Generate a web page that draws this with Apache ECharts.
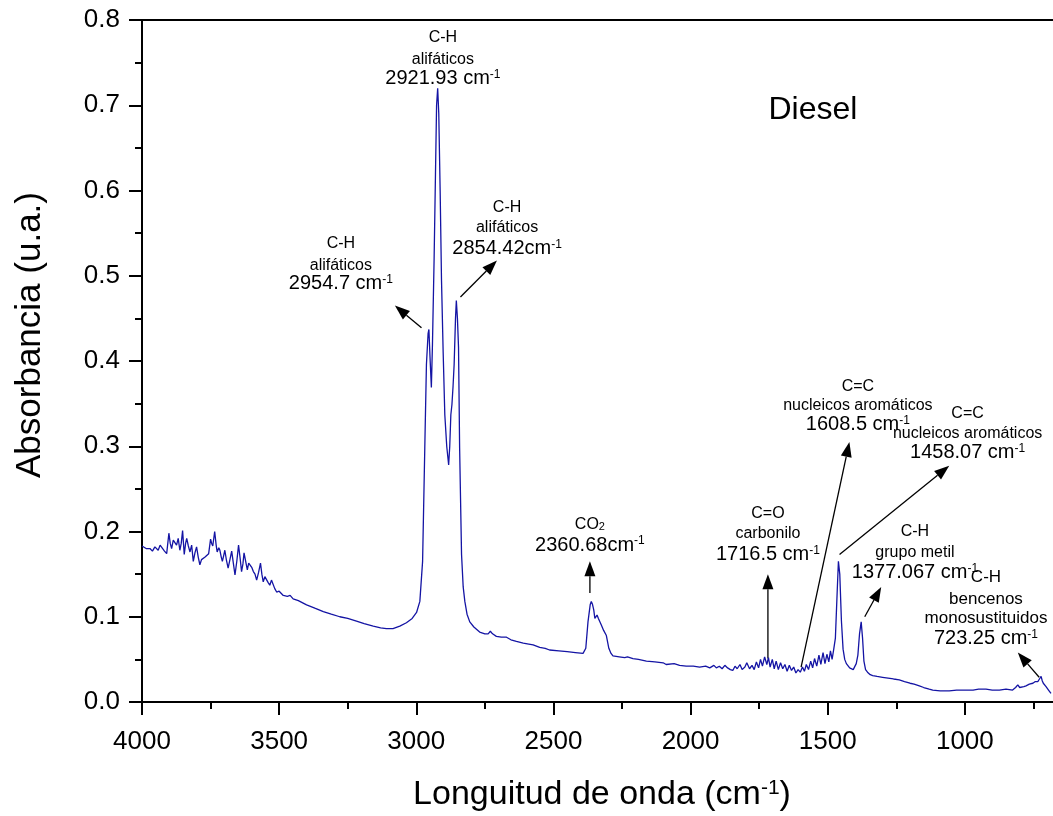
<!DOCTYPE html>
<html>
<head>
<meta charset="utf-8">
<title>Diesel FTIR</title>
<script src="https://cdn.jsdelivr.net/npm/echarts@6/dist/echarts.min.js"></script>
<style>
  html, body { margin: 0; padding: 0; background: #fff; }
  #chart { width: 1053px; height: 816px; }
</style>
</head>
<body>
<div id="chart"></div>
<script>
// spectrum (cm-1, absorbance)
var wavenumber = [
  4000, 3995, 3985, 3971, 3962, 3953, 3941, 3934, 3928, 3918, 3910, 3902, 3897, 3892, 3886, 3880,
  3874, 3868, 3862, 3857, 3852, 3846, 3841, 3837, 3831, 3825, 3819, 3813, 3807, 3801, 3795, 3789,
  3783, 3777, 3770, 3764, 3757, 3750, 3746, 3742, 3735, 3730, 3726, 3720, 3716, 3711, 3707, 3702,
  3698, 3692, 3686, 3680, 3673, 3667, 3661, 3654, 3648, 3642, 3637, 3632, 3628, 3622, 3616, 3611,
  3607, 3600, 3594, 3588, 3582, 3575, 3568, 3563, 3558, 3552, 3546, 3540, 3534, 3528, 3522, 3516,
  3509, 3500, 3485, 3470, 3460, 3449, 3430, 3400, 3370, 3339, 3310, 3279, 3250, 3218, 3190, 3157,
  3130, 3109, 3085, 3060, 3036, 3015, 2999, 2987, 2977, 2969, 2963, 2957, 2954, 2950, 2945, 2941,
  2935, 2930, 2926, 2922, 2918, 2913, 2908, 2902, 2896, 2889, 2882, 2878, 2874, 2870, 2866, 2862,
  2857, 2854, 2850, 2846, 2842, 2835, 2829, 2823, 2815, 2805, 2790, 2769, 2750, 2738, 2730, 2722,
  2708, 2690, 2671, 2655, 2635, 2610, 2590, 2574, 2550, 2530, 2514, 2480, 2450, 2420, 2392, 2382,
  2374, 2366, 2362, 2358, 2353, 2349, 2345, 2341, 2336, 2332, 2325, 2317, 2307, 2298, 2290, 2283,
  2260, 2240, 2230, 2210, 2190, 2161, 2130, 2100, 2089, 2060, 2040, 2016, 1990, 1967, 1945, 1930,
  1915, 1906, 1895, 1885, 1875, 1865, 1855, 1846, 1838, 1830, 1820, 1812, 1802, 1795, 1785, 1776,
  1768, 1760, 1752, 1745, 1738, 1730, 1722, 1716, 1710, 1702, 1695, 1688, 1680, 1672, 1664, 1656,
  1648, 1640, 1632, 1624, 1616, 1608, 1600, 1592, 1585, 1578, 1570, 1562, 1555, 1548, 1540, 1532,
  1525, 1517, 1510, 1503, 1496, 1490, 1484, 1478, 1472, 1466, 1461, 1456, 1450, 1444, 1438, 1432,
  1427, 1420, 1413, 1407, 1402, 1396, 1390, 1384, 1378, 1373, 1368, 1362, 1355, 1345, 1336, 1320,
  1300, 1280, 1260, 1239, 1220, 1200, 1185, 1166, 1150, 1130, 1117, 1090, 1057, 1030, 996, 970,
  950, 923, 900, 874, 850, 826, 815, 807, 800, 795, 785, 777, 765, 752, 743, 734,
  728, 722, 718, 714, 709, 704, 695, 686
];
var absorbance = [
  0.183, 0.182, 0.180, 0.180, 0.177, 0.182, 0.178, 0.184, 0.185, 0.177, 0.174, 0.198, 0.186, 0.180, 0.190, 0.188,
  0.184, 0.192, 0.178, 0.186, 0.201, 0.173, 0.186, 0.192, 0.183, 0.176, 0.184, 0.165, 0.175, 0.182, 0.170, 0.161,
  0.167, 0.165, 0.170, 0.168, 0.174, 0.191, 0.186, 0.183, 0.200, 0.185, 0.176, 0.181, 0.178, 0.170, 0.165, 0.172,
  0.178, 0.166, 0.157, 0.166, 0.177, 0.163, 0.149, 0.166, 0.184, 0.168, 0.153, 0.162, 0.175, 0.165, 0.155, 0.163,
  0.165, 0.158, 0.153, 0.150, 0.143, 0.152, 0.163, 0.150, 0.141, 0.147, 0.145, 0.140, 0.137, 0.143, 0.141, 0.133,
  0.129, 0.130, 0.125, 0.124, 0.125, 0.121, 0.119, 0.114, 0.110, 0.106, 0.103, 0.100, 0.098, 0.095, 0.092, 0.089,
  0.087, 0.086, 0.086, 0.089, 0.093, 0.098, 0.105, 0.118, 0.165, 0.298, 0.396, 0.432, 0.437, 0.405, 0.369, 0.420,
  0.520, 0.620, 0.700, 0.720, 0.690, 0.600, 0.494, 0.410, 0.337, 0.300, 0.278, 0.300, 0.337, 0.349, 0.370, 0.396,
  0.450, 0.471, 0.450, 0.416, 0.298, 0.173, 0.135, 0.118, 0.103, 0.094, 0.088, 0.082, 0.080, 0.080, 0.083, 0.080,
  0.077, 0.076, 0.076, 0.073, 0.071, 0.069, 0.068, 0.067, 0.064, 0.063, 0.061, 0.060, 0.059, 0.058, 0.057, 0.063,
  0.094, 0.114, 0.118, 0.115, 0.108, 0.098, 0.100, 0.102, 0.098, 0.096, 0.090, 0.084, 0.078, 0.063, 0.057, 0.054,
  0.053, 0.052, 0.053, 0.051, 0.050, 0.048, 0.047, 0.046, 0.044, 0.045, 0.043, 0.042, 0.042, 0.041, 0.042, 0.040,
  0.043, 0.040, 0.042, 0.039, 0.043, 0.040, 0.038, 0.037, 0.042, 0.039, 0.044, 0.038, 0.041, 0.046, 0.039, 0.043,
  0.038, 0.047, 0.040, 0.050, 0.042, 0.053, 0.044, 0.052, 0.041, 0.050, 0.039, 0.048, 0.038, 0.046, 0.039, 0.044,
  0.036, 0.043, 0.037, 0.041, 0.034, 0.038, 0.035, 0.041, 0.036, 0.044, 0.038, 0.048, 0.040, 0.051, 0.042, 0.055,
  0.044, 0.058, 0.045, 0.056, 0.047, 0.060, 0.050, 0.062, 0.075, 0.125, 0.165, 0.150, 0.095, 0.062, 0.050, 0.045,
  0.043, 0.040, 0.041, 0.038, 0.037, 0.045, 0.055, 0.080, 0.094, 0.075, 0.048, 0.038, 0.035, 0.032, 0.031, 0.030,
  0.029, 0.028, 0.027, 0.026, 0.024, 0.022, 0.021, 0.019, 0.017, 0.015, 0.014, 0.013, 0.013, 0.014, 0.014, 0.014,
  0.015, 0.015, 0.014, 0.014, 0.015, 0.014, 0.017, 0.020, 0.017, 0.016, 0.018, 0.019, 0.021, 0.022, 0.024, 0.024,
  0.027, 0.030, 0.025, 0.022, 0.020, 0.018, 0.014, 0.010
];

var xTickLabels = [4000, 3500, 3000, 2500, 2000, 1500, 1000];

// annotation text, one entry per block: [small lines..., number line]
var noteLines = [
  ['C-H', 'alifáticos', '2921.93 cm'],
  ['C-H', 'alifáticos', '2954.7 cm'],
  ['C-H', 'alifáticos', '2854.42cm'],
  ['CO2', '2360.68cm'],
  ['C=O', 'carbonilo', '1716.5 cm'],
  ['C=C', 'nucleicos aromáticos', '1608.5 cm'],
  ['C=C', 'nucleicos aromáticos', '1458.07 cm'],
  ['C-H', 'grupo metil', '1377.067 cm'],
  ['C-H', 'bencenos', 'monosustituidos', '723.25 cm']
];

var FONT = "'Liberation Sans', Arial, sans-serif";

var chart = echarts.init(document.getElementById('chart'));

function superRich(size) {
  return {
    n: { fontSize: size, fontFamily: FONT, color: '#000' },
    s: { fontSize: Math.round(size * 0.62), fontFamily: FONT, color: '#000', verticalAlign: 'top' },
    b: { fontSize: Math.round(size * 0.68), fontFamily: FONT, color: '#000', verticalAlign: 'bottom' }
  };
}

chart.setOption({
  animation: false,
  backgroundColor: '#fff',
  grid: {
    left: 142,
    right: -49,
    top: 20,
    bottom: 114,
    outerBoundsMode: 'none',
    show: true,
    borderColor: '#000',
    borderWidth: 2
  },
  xAxis: {
    type: 'value',
    inverse: true,
    min: 500,
    max: 4000,
    interval: 500,
    name: '{n|Longuitud de onda (cm}{s|-1}{n|)}',
    nameLocation: 'middle',
    nameGap: 76,
    nameTextStyle: { rich: superRich(34), padding: [0, 40, 0, 0] },
    axisLine: { lineStyle: { color: '#000', width: 2 } },
    axisTick: { inside: false, length: 13, lineStyle: { color: '#000', width: 2 } },
    minorTick: { show: true, splitNumber: 2, length: 7, lineStyle: { color: '#000', width: 2 } },
    axisLabel: {
      color: '#000',
      fontSize: 26,
      fontFamily: FONT,
      margin: 27,
      formatter: function (v) {
        return xTickLabels.indexOf(v) >= 0 ? String(v) : '';
      }
    },
    splitLine: { show: false }
  },
  yAxis: {
    type: 'value',
    min: 0,
    max: 0.8,
    interval: 0.1,
    name: 'Absorbancia (u.a.)',
    nameLocation: 'middle',
    nameGap: 94,
    nameTextStyle: { color: '#000', fontSize: 35, fontFamily: FONT, padding: [0, 0, 0, 52] },
    axisLine: { show: true, lineStyle: { color: '#000', width: 2 } },
    axisTick: { show: true, inside: false, length: 13, lineStyle: { color: '#000', width: 2 } },
    minorTick: { show: true, splitNumber: 2, length: 7, lineStyle: { color: '#000', width: 2 } },
    axisLabel: {
      color: '#000',
      fontSize: 26,
      fontFamily: FONT,
      margin: 22,
      formatter: function (v) { return v.toFixed(1); }
    },
    splitLine: { show: false }
  },
  series: [{
    name: 'Diesel',
    type: 'line',
    showSymbol: false,
    lineStyle: { color: '#1414a4', width: 1.3 },
    data: wavenumber.map(function (w, i) { return [w, absorbance[i]]; })
  }]
});

// where each note block sits, in data units: [cm-1, absorbance of each line]
var notePlace = [
  [2903, [0.779, 0.754, 0.731]],
  [3275, [0.538, 0.512, 0.491]],
  [2669, [0.580, 0.556, 0.532]],
  [2367, [0.208, 0.184]],
  [1718, [0.221, 0.198, 0.173]],
  [1390, [0.370, 0.348, 0.325]],
  [990, [0.338, 0.315, 0.293]],
  [1182, [0.200, 0.175, 0.152]],
  [923, [0.146, 0.121, 0.098, 0.074]]
];

// arrows: [tail, tip] in data units
var arrows = [
  [[2981, 0.439], [3078, 0.465]],
  [[2839, 0.475], [2706, 0.518]],
  [[2367, 0.128], [2367, 0.165]],
  [[1718, 0.051], [1718, 0.150]],
  [[1597, 0.041], [1421, 0.305]],
  [[1457, 0.173], [1057, 0.277]],
  [[1365, 0.100], [1305, 0.135]],
  [[729, 0.029], [807, 0.058]]
];

function toPx(p) {
  return chart.convertToPixel({ gridIndex: 0 }, p);
}

function buildGraphics() {
  var els = [];

  var d = toPx([1554, 0.694]);
  els.push({
    type: 'text', id: 'diesel', x: d[0], y: d[1],
    style: { text: 'Diesel', fontSize: 32, fontFamily: FONT, fill: '#000', align: 'center', verticalAlign: 'middle' }
  });

  noteLines.forEach(function (lines, i) {
    var place = notePlace[i];
    lines.forEach(function (txt, j) {
      var p = toPx([place[0], place[1][j]]);
      var last = j === lines.length - 1;
      var text;
      var rich;
      if (last) {
        text = '{n|' + txt + '}{s|-1}';
        rich = superRich(20);
      } else if (txt === 'CO2') {
        text = '{n|CO}{b|2}';
        rich = superRich(16);
      } else {
        text = '{n|' + txt + '}';
        rich = superRich(i === 8 ? 17 : 16);
      }
      els.push({
        type: 'text', id: 'note' + i + '_' + j, x: p[0], y: p[1],
        style: { text: text, rich: rich, align: 'center', verticalAlign: 'middle' }
      });
    });
  });

  arrows.forEach(function (a, i) {
    var t = toPx(a[0]);
    var h = toPx(a[1]);
    var dx = h[0] - t[0];
    var dy = h[1] - t[1];
    var len = Math.sqrt(dx * dx + dy * dy);
    var ux = dx / len;
    var uy = dy / len;
    var headLen = 15;
    var half = 5.5;
    var bx = h[0] - ux * headLen;
    var by = h[1] - uy * headLen;
    els.push({
      type: 'line', id: 'arrowLine' + i,
      shape: { x1: t[0], y1: t[1], x2: bx, y2: by },
      style: { stroke: '#000', lineWidth: 1.3 }
    });
    els.push({
      type: 'polygon', id: 'arrowHead' + i,
      shape: { points: [[h[0], h[1]], [bx - uy * half, by + ux * half], [bx + uy * half, by - ux * half]] },
      style: { fill: '#000' }
    });
  });

  return els;
}

chart.setOption({ graphic: { elements: buildGraphics() } });

window.addEventListener('resize', function () {
  chart.resize();
  chart.setOption({ graphic: { elements: buildGraphics() } });
});
</script>
</body>
</html>
